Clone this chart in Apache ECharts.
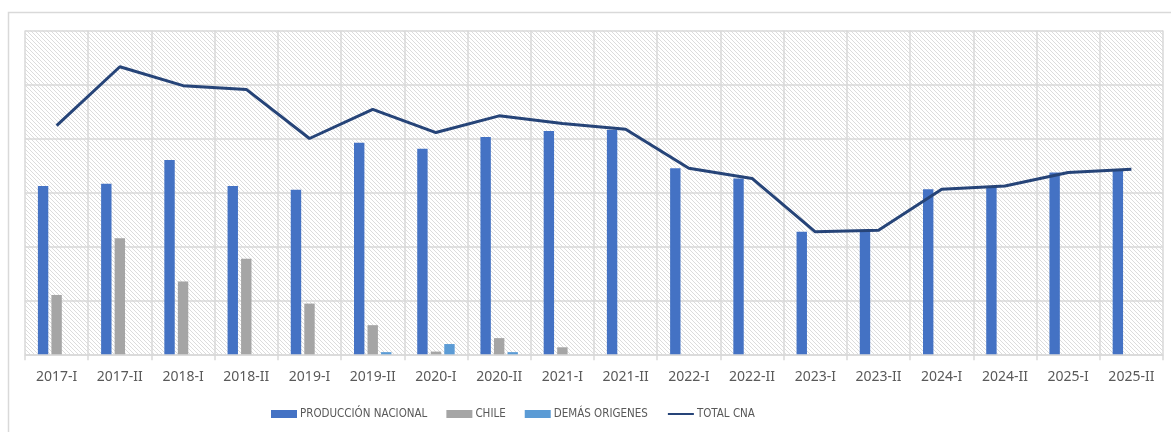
<!DOCTYPE html>
<html>
<head>
<meta charset="utf-8">
<script src="https://cdn.jsdelivr.net/npm/echarts@6/dist/echarts.min.js"></script>
<style>
html,body{margin:0;padding:0;background:#fff;}
#c{width:1171px;height:432px;}
</style>
</head>
<body>
<div id="c"></div>
<script>
const categories = ['2017-I','2017-II','2018-I','2018-II','2019-I','2019-II','2020-I','2020-II','2021-I','2021-II','2022-I','2022-II','2023-I','2023-II','2024-I','2024-II','2025-I','2025-II'];
const produccionNacional = [312, 316, 360, 312, 305, 392, 381, 403, 414, 416, 345, 326, 227, 228, 306, 309, 337, 342];
const chile = [110, 215, 135, 177, 94, 54, 5, 30, 13, 0, 0, 0, 0, 0, 0, 0, 0, 0];
const demasOrigenes = [0, 0, 0, 0, 0, 4, 19, 4, 0, 0, 0, 0, 0, 0, 0, 0, 0, 0];
const totalCNA = [424, 533, 498, 491, 400, 454, 411, 442, 428, 417, 345, 326, 227, 230, 306, 312, 337, 343];

function hatch() {
  const s = 4;
  const cv = document.createElement('canvas');
  cv.width = s; cv.height = s;
  const ctx = cv.getContext('2d');
  ctx.fillStyle = '#ffffff';
  ctx.fillRect(0, 0, s, s);
  ctx.strokeStyle = '#dcdcdc';
  ctx.lineWidth = 1;
  ctx.beginPath();
  ctx.moveTo(-1, -1); ctx.lineTo(s + 1, s + 1);
  ctx.moveTo(-1 - s, -1); ctx.lineTo(1, s + 1);
  ctx.moveTo(s - 1, -1); ctx.lineTo(2 * s + 1, s + 1);
  ctx.stroke();
  return cv;
}

const chart = echarts.init(document.getElementById('c'), null, {renderer: 'canvas'});
const labelColor = '#595959';
const font = 'Noto Sans';
chart.setOption({
  animation: false,
  backgroundColor: '#ffffff',
  graphic: [{
    type: 'rect', left: 6, top: 10, z: -10,
    shape: {width: 1175, height: 440},
    style: {fill: 'none', stroke: '#d9d9d9', lineWidth: 1.5}
  }],
  grid: {
    left: 25, right: 8, top: 30.6, bottom: 77.7,
    show: true, borderWidth: 0,
    backgroundColor: {image: hatch(), repeat: 'repeat'}
  },
  legend: {
    left: 271, top: 408, padding: 0,
    itemWidth: 26, itemHeight: 8, itemGap: 19,
    textStyle: {color: labelColor, fontFamily: 'DejaVu Sans Condensed', fontSize: 11.5, padding: [0, 0, 0, -2]},
    data: [
      {name: 'PRODUCCIÓN NACIONAL', icon: 'rect'},
      {name: 'CHILE', icon: 'rect'},
      {name: 'DEMÁS ORIGENES', icon: 'rect'},
      {name: 'TOTAL CNA', itemStyle: {opacity: 0}}
    ]
  },
  xAxis: {
    type: 'category',
    data: categories,
    boundaryGap: true,
    axisLine: {show: true, lineStyle: {color: '#d9d9d9', width: 1.5}},
    axisTick: {show: true, length: 6, lineStyle: {color: '#d9d9d9', width: 1.5}},
    splitLine: {show: true, lineStyle: {color: '#d9d9d9', width: 1.5}},
    axisLabel: {color: labelColor, fontFamily: font, fontSize: 14, margin: 16}
  },
  yAxis: {
    type: 'value',
    min: 0, max: 600, interval: 100,
    axisLabel: {show: false},
    axisLine: {show: false},
    axisTick: {show: false},
    splitLine: {show: true, lineStyle: {color: '#d9d9d9', width: 1.5}}
  },
  series: [
    {name: 'PRODUCCIÓN NACIONAL', type: 'bar', data: produccionNacional, barWidth: 10.4, barGap: '30%', itemStyle: {color: '#4472C4'}},
    {name: 'CHILE', type: 'bar', data: chile, barWidth: 10.4, barGap: '30%', itemStyle: {color: '#A5A5A5'}},
    {name: 'DEMÁS ORIGENES', type: 'bar', data: demasOrigenes, barWidth: 10.4, barGap: '30%', itemStyle: {color: '#5B9BD5'}},
    {name: 'TOTAL CNA', type: 'line', data: totalCNA, symbol: 'none', lineStyle: {color: '#264478', width: 3}, itemStyle: {color: '#264478'}, z: 5}
  ]
});
</script>
</body>
</html>
